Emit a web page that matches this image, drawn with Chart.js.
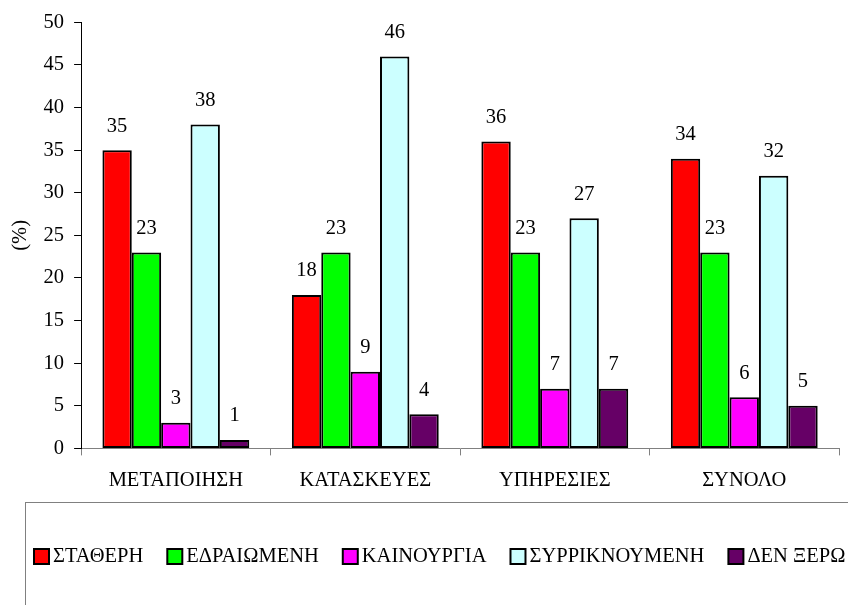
<!DOCTYPE html>
<html>
<head>
<meta charset="utf-8">
<script src="https://cdn.jsdelivr.net/npm/chart.js@4"></script>
<style>
  html, body { margin: 0; padding: 0; background: #fff; }
  #wrap { width: 848px; height: 605px; }
</style>
</head>
<body>
<div id="wrap"><canvas id="chart"></canvas></div>
<script>
const categories = ["ΜΕΤΑΠΟΙΗΣΗ", "ΚΑΤΑΣΚΕΥΕΣ", "ΥΠΗΡΕΣΙΕΣ", "ΣΥΝΟΛΟ"];
const seriesNames = ["ΣΤΑΘΕΡΗ", "ΕΔΡΑΙΩΜΕΝΗ", "ΚΑΙΝΟΥΡΓΙΑ", "ΣΥΡΡΙΚΝΟΥΜΕΝΗ", "ΔΕΝ ΞΕΡΩ"];
const stathera = [35, 18, 36, 34];
const edraiomeni = [23, 23, 23, 23];
const kainourgia = [3, 9, 7, 6];
const syrriknoumeni = [38, 46, 27, 32];
const denXero = [1, 4, 7, 5];
const seriesColors = ["#ff0000", "#00ff00", "#ff00ff", "#ccffff", "#660066"];
const yTicks = [0, 5, 10, 15, 20, 25, 30, 35, 40, 45, 50];

const FONT = "Liberation Serif, DejaVu Serif, serif";
const FS = 20.5;

const allValues = [stathera, edraiomeni, kainourgia, syrriknoumeni, denXero];

// τιμές πάνω από τις μπάρες
const valueLabels = {
  id: "valueLabels",
  afterDatasetsDraw(chart) {
    const ctx = chart.ctx;
    ctx.save();
    ctx.font = FS + "px " + FONT;
    ctx.fillStyle = "#000";
    ctx.textAlign = "center";
    ctx.textBaseline = "middle";
    chart.data.datasets.forEach((ds, i) => {
      chart.getDatasetMeta(i).data.forEach((bar, j) => {
        ctx.fillText(String(ds.data[j]), bar.x, bar.y - 24);
      });
    });
    ctx.restore();
  }
};

// υπόμνημα σε πλαίσιο
const boxLegend = {
  id: "boxLegend",
  afterDraw(chart) {
    const ctx = chart.ctx;
    ctx.save();
    ctx.strokeStyle = "#808080";
    ctx.lineWidth = 1;
    ctx.strokeRect(25.5, 502.5, 900, 200);
    ctx.font = FS + "px " + FONT;
    ctx.textBaseline = "middle";
    let x = 34;
    const y = 556;
    chart.data.datasets.forEach(ds => {
      ctx.fillStyle = ds.backgroundColor;
      ctx.fillRect(x, y - 7, 15, 15);
      ctx.strokeStyle = "#000";
      ctx.lineWidth = 2;
      ctx.strokeRect(x, y - 7, 15, 15);
      ctx.fillStyle = "#000";
      ctx.fillText(ds.label, x + 19, y + 1);
      x += 19 + ctx.measureText(ds.label).width + 24;
    });
    ctx.restore();
  }
};

new Chart(document.getElementById("chart"), {
  type: "bar",
  data: {
    labels: categories,
    datasets: seriesNames.map((name, i) => ({
      label: name,
      data: allValues[i],
      backgroundColor: seriesColors[i],
      borderColor: "#000",
      borderWidth: 2,
      borderSkipped: false,
      categoryPercentage: 0.775,
      barPercentage: 1
    }))
  },
  options: {
    responsive: true,
    maintainAspectRatio: false,
    animation: false,
    layout: { padding: { left: 8, right: 9, top: 22, bottom: 99 } },
    plugins: { legend: { display: false }, tooltip: { enabled: false } },
    scales: {
      x: {
        grid: { drawOnChartArea: false, tickLength: 7, color: "#808080", offset: true },
        border: { color: "#808080", width: 1 },
        ticks: { color: "#000", padding: 13, font: { family: FONT, size: FS } }
      },
      y: {
        min: 0,
        max: 50,
        afterBuildTicks: axis => { axis.ticks = yTicks.map(v => ({ value: v })); },
        grid: { drawOnChartArea: false, tickLength: 7, color: "#000" },
        border: { color: "#000", width: 1 },
        ticks: { color: "#000", padding: 10, font: { family: FONT, size: FS } },
        title: {
          display: true,
          text: "(%)",
          color: "#000",
          padding: { top: 0, bottom: 1 },
          font: { family: FONT, size: FS }
        }
      }
    }
  },
  plugins: [valueLabels, boxLegend]
});
</script>
</body>
</html>
